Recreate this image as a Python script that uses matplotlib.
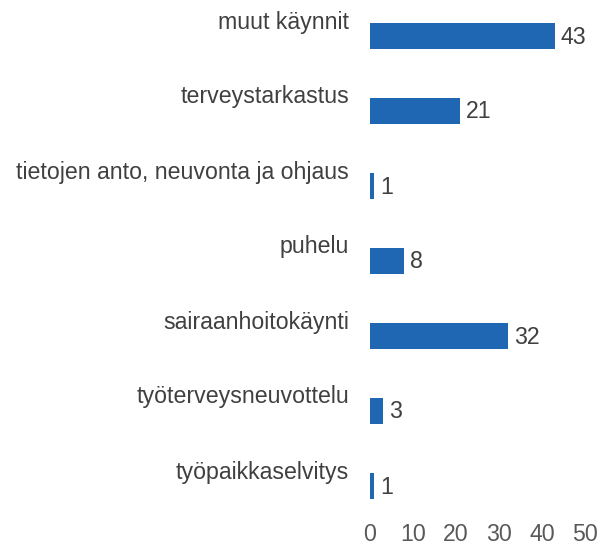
import matplotlib
matplotlib.use('Agg')
import matplotlib.pyplot as plt

categories = ['muut käynnit', 'terveystarkastus', 'tietojen anto, neuvonta ja ohjaus',
              'puhelu', 'sairaanhoitokäynti', 'työterveysneuvottelu', 'työpaikkaselvitys']
values = [43, 21, 1, 8, 32, 3, 1]
xticks = [0, 10, 20, 30, 40, 50]

bar_color = '#1f67b2'
text_color = '#404040'

plt.rcParams['font.family'] = ['Liberation Sans', 'DejaVu Sans']

fig = plt.figure(figsize=(5.99, 5.44), dpi=100)
ax = fig.add_axes([370 / 599, 1 - 519.75 / 544, 215 / 599, (519.75 - 2.25) / 544])

ypos = list(range(len(categories)))
ax.barh(ypos, values, height=0.35, color=bar_color)

for y, cat, v in zip(ypos, categories, values):
    ax.annotate(cat, xy=(0, y), xytext=(-21, 14), textcoords='offset pixels',
                ha='right', va='center', fontsize=16.7, color=text_color)
    ax.annotate(str(v), xy=(v, y), xytext=(6, -1), textcoords='offset pixels',
                ha='left', va='center', fontsize=16.7, color=text_color)

ax.set_xlim(0, 50)
ax.set_ylim(6.45, -0.45)
ax.set_xticks(xticks)
ax.set_xticklabels([str(t) for t in xticks])
ax.set_yticks([])
ax.tick_params(axis='x', length=0, pad=2, labelsize=16.7, labelcolor='#595959')
for s in ax.spines.values():
    s.set_visible(False)

fig.savefig('out.png', dpi=100)
